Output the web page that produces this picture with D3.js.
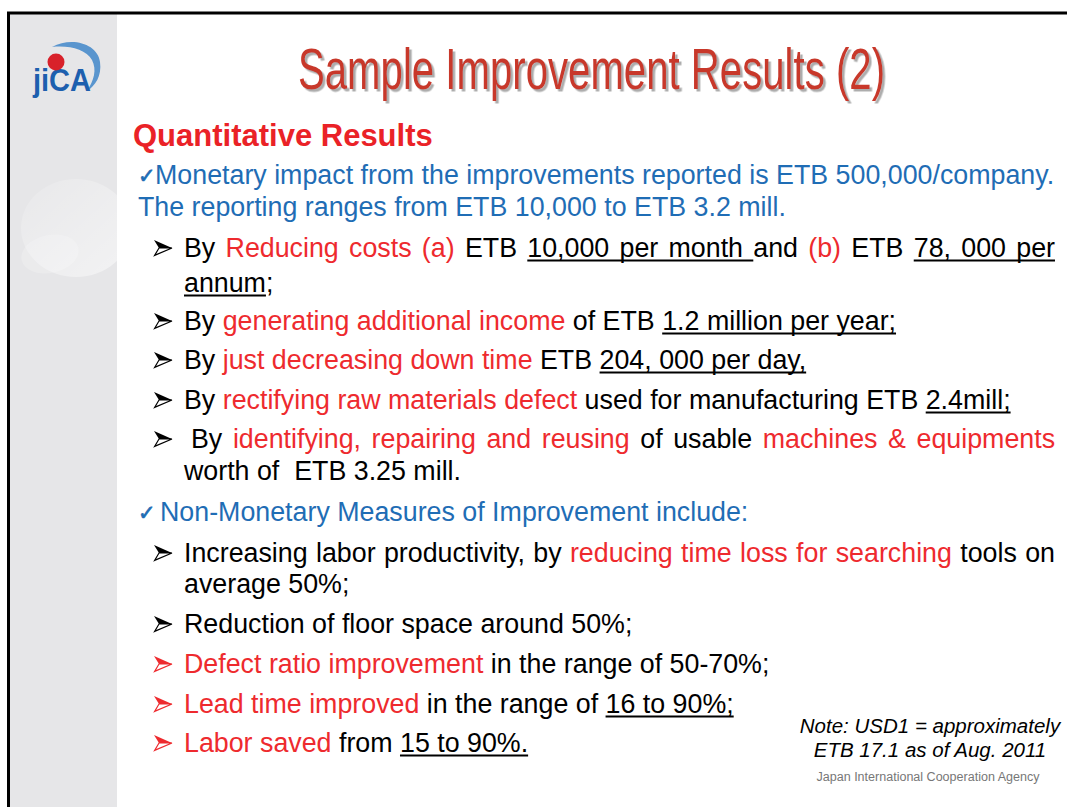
<!DOCTYPE html>
<html>
<head>
<meta charset="utf-8">
<script src="https://cdn.jsdelivr.net/npm/d3@7"></script>
<style>
  html, body { margin: 0; padding: 0; background: #fff; }
  svg { display: block; }
  text { font-family: "Liberation Sans", Arial, sans-serif; }
</style>
</head>
<body>
<svg id="slide" width="1067" height="807"></svg>
<script>
// slide text, line by line; each segment is [text, tone, underlined]
var titleText = "Sample Improvement Results (2)";
var headingText = "Quantitative Results";
var bodyLines = [
    [["Monetary impact from the improvements reported is ETB 500,000/company.", "b"]],
    [["The reporting ranges from ETB 10,000 to ETB 3.2 mill.", "b"]],
    [["By ", "k"], ["Reducing costs (a)", "r"], [" ETB ", "k"], ["10,000 per month ", "k", 1], ["and ", "k"], ["(b)", "r"], [" ETB ", "k"], ["78, 000 per", "k", 1]],
    [["annum", "k", 1], [";", "k"]],
    [["By ", "k"], ["generating additional income", "r"], [" of ETB ", "k"], ["1.2 million per year;", "k", 1]],
    [["By ", "k"], ["just decreasing down time", "r"], [" ETB ", "k"], ["204, 000 per day,", "k", 1]],
    [["By ", "k"], ["rectifying raw materials defect", "r"], [" used for manufacturing ETB ", "k"], ["2.4mill;", "k", 1]],
    [["By ", "k"], ["identifying, repairing and reusing", "r"], [" of usable ", "k"], ["machines & equipments", "r"]],
    [["worth of\u00a0 ETB 3.25 mill.", "k"]],
    [["Non-Monetary Measures of Improvement include:", "b"]],
    [["Increasing labor productivity, by ", "k"], ["reducing time loss for searching", "r"], [" tools on", "k"]],
    [["average 50%;", "k"]],
    [["Reduction of floor space around 50%;", "k"]],
    [["Defect ratio improvement", "r"], [" in the range of 50-70%;", "k"]],
    [["Lead time improved", "r"], [" in the range of ", "k"], ["16 to 90%;", "k", 1]],
    [["Labor saved", "r"], [" from ", "k"], ["15 to 90%.", "k", 1]]
];
// bullet in front of each line: "check", "arrow", "arrowRed" or none
var lineBullets = ["check", "", "arrow", "", "arrow", "arrow", "arrow", "arrow", "", "check", "arrow", "", "arrow", "arrowRed", "arrowRed", "arrowRed"];
var noteLines = ["Note: USD1 = approximately", "ETB 17.1 as of Aug. 2011"];
var footerText = "Japan International Cooperation Agency";

// layout
var baselines = [184, 216, 257, 292, 330, 369, 409, 448, 480, 521, 562, 593, 633, 673, 713, 752];
var lineX     = [155, 138, 184, 184, 184, 184, 184, 191, 184, 160, 184, 184, 184, 184, 184, 184];
var justified = [2, 7, 10];
var rightEdge = 1055;
var tones = { k: "#000000", r: "#ee2a2e", b: "#1f6db5" };

var svg = d3.select("#slide");

svg.append("rect").attr("width", 1067).attr("height", 807).attr("fill", "#fff");

// grey side panel with its soft circles
var defs = svg.append("defs");
var grad = defs.append("linearGradient").attr("id", "blob").attr("x1", 0).attr("y1", 0).attr("x2", 1).attr("y2", 1);
grad.append("stop").attr("offset", "0%").attr("stop-color", "#ffffff").attr("stop-opacity", 0.1);
grad.append("stop").attr("offset", "100%").attr("stop-color", "#ffffff").attr("stop-opacity", 0.5);
defs.append("clipPath").attr("id", "panel-clip")
    .append("rect").attr("x", 10).attr("y", 14).attr("width", 107).attr("height", 793);
var shadow = defs.append("filter").attr("id", "title-shadow")
    .attr("x", "-5%").attr("y", "-30%").attr("width", "110%").attr("height", "160%");
shadow.append("feDropShadow")
    .attr("dx", 2.5).attr("dy", 2.5).attr("stdDeviation", 0.6)
    .attr("flood-color", "#999").attr("flood-opacity", 0.8);

svg.append("rect")
    .attr("x", 10).attr("y", 14).attr("width", 107).attr("height", 793)
    .attr("fill", "#e6e6e8");

var blobs = svg.append("g").attr("clip-path", "url(#panel-clip)");
blobs.append("ellipse")
    .attr("cx", 76).attr("cy", 228).attr("rx", 55).attr("ry", 49)
    .attr("fill", "url(#blob)");
blobs.append("ellipse")
    .attr("cx", 50).attr("cy", 254).attr("rx", 29).attr("ry", 19)
    .attr("transform", "rotate(-12,50,254)")
    .attr("fill", "#ffffff").attr("fill-opacity", 0.2);

// frame lines
svg.append("line").attr("x1", 7).attr("x2", 1067).attr("y1", 13).attr("y2", 13)
    .attr("stroke", "#000").attr("stroke-width", 3);
svg.append("line").attr("x1", 8.5).attr("x2", 8.5).attr("y1", 12).attr("y2", 807)
    .attr("stroke", "#000").attr("stroke-width", 3);

// logo
var logo = svg.append("g");
logo.append("path")
    .attr("d", "M52,47 C72,36 98,44 100,62 C102,76 95,86 87,91 C94,80 97,70 92,60 C86,49 68,45 52,47 Z")
    .attr("fill", "#3f86c9").attr("fill-opacity", 0.85);
logo.append("text")
    .attr("x", 33).attr("y", 91)
    .attr("font-size", 31).attr("font-weight", "bold")
    .attr("fill", "#1d5fae")
    .attr("textLength", 58).attr("lengthAdjust", "spacingAndGlyphs")
    .text("jiCA");
logo.append("circle").attr("cx", 56).attr("cy", 62).attr("r", 8.5).attr("fill", "#d8212a");

// title, one condensed text with a drop shadow
svg.append("text")
    .attr("x", 298).attr("y", 89)
    .attr("font-family", "'Liberation Sans Narrow', 'Liberation Sans', Arial, sans-serif")
    .attr("font-size", 57)
    .attr("fill", "#c8392c")
    .attr("filter", "url(#title-shadow)")
    .attr("textLength", 587).attr("lengthAdjust", "spacingAndGlyphs")
    .text(titleText);

svg.append("text")
    .attr("x", 133).attr("y", 146)
    .attr("font-size", 31).attr("font-weight", "bold")
    .attr("fill", "#ea2227")
    .text(headingText);

// bullets
function arrowBullet(x, y, colour) {
    var g = svg.append("g").attr("transform", "translate(" + x + "," + y + ")");
    g.append("path").attr("d", "M0,-8 L18,0 L5,0 Z").attr("fill", colour);
    g.append("path").attr("d", "M0.6,7.4 L18,0 L5,0 Z")
        .attr("fill", "#fff").attr("stroke", colour).attr("stroke-width", 1.2).attr("stroke-linejoin", "miter");
}

bodyLines.forEach(function(line, i) {
    var y = baselines[i],
        bullet = lineBullets[i];
    if (bullet == "check") {
        svg.append("text")
            .attr("x", 138).attr("y", y - 1)
            .attr("font-family", "DejaVu Sans")
            .attr("font-size", 21)
            .attr("fill", tones.b)
            .attr("stroke", tones.b).attr("stroke-width", 0.7)
            .text("\u2713");
    } else if (bullet == "arrow") {
        arrowBullet(154, y - 9, "#000");
    } else if (bullet == "arrowRed") {
        arrowBullet(154, y - 9, tones.r);
    }

    var text = svg.append("text")
        .attr("x", lineX[i]).attr("y", y)
        .attr("font-size", 26.8)
        .style("white-space", "pre");
    text.selectAll("tspan")
        .data(line)
        .enter().append("tspan")
        .attr("fill", function(d) { return tones[d[1]]; })
        .text(function(d) { return d[0]; });

    var node = text.node();
    if (justified.indexOf(i) >= 0) {
        var full = line.map(function(d) { return d[0]; }).join(""),
            gaps = full.split(" ").length - 1,
            extra = rightEdge - lineX[i] - node.getComputedTextLength();
        text.attr("word-spacing", (extra / gaps).toFixed(2));
    }

    // underlines from glyph positions
    var offset = 0;
    line.forEach(function(d) {
        if (d[2]) {
            var x0 = node.getStartPositionOfChar(offset).x,
                x1 = node.getEndPositionOfChar(offset + d[0].length - 1).x;
            svg.append("line")
                .attr("x1", x0).attr("x2", x1)
                .attr("y1", y + 3.5).attr("y2", y + 3.5)
                .attr("stroke", "#000").attr("stroke-width", 1.8);
        }
        offset += d[0].length;
    });
});

// note and footer
svg.selectAll(".note")
    .data(noteLines)
    .enter().append("text")
    .attr("class", "note")
    .attr("x", 930)
    .attr("y", function(d, i) { return 733 + i * 24; })
    .attr("text-anchor", "middle")
    .attr("font-size", 20.5).attr("font-style", "italic")
    .attr("fill", "#000")
    .text(function(d) { return d; });

svg.append("text")
    .attr("x", 928).attr("y", 781)
    .attr("text-anchor", "middle")
    .attr("font-size", 12)
    .attr("fill", "#777")
    .attr("textLength", 223).attr("lengthAdjust", "spacingAndGlyphs")
    .text(footerText);
</script>
</body>
</html>
